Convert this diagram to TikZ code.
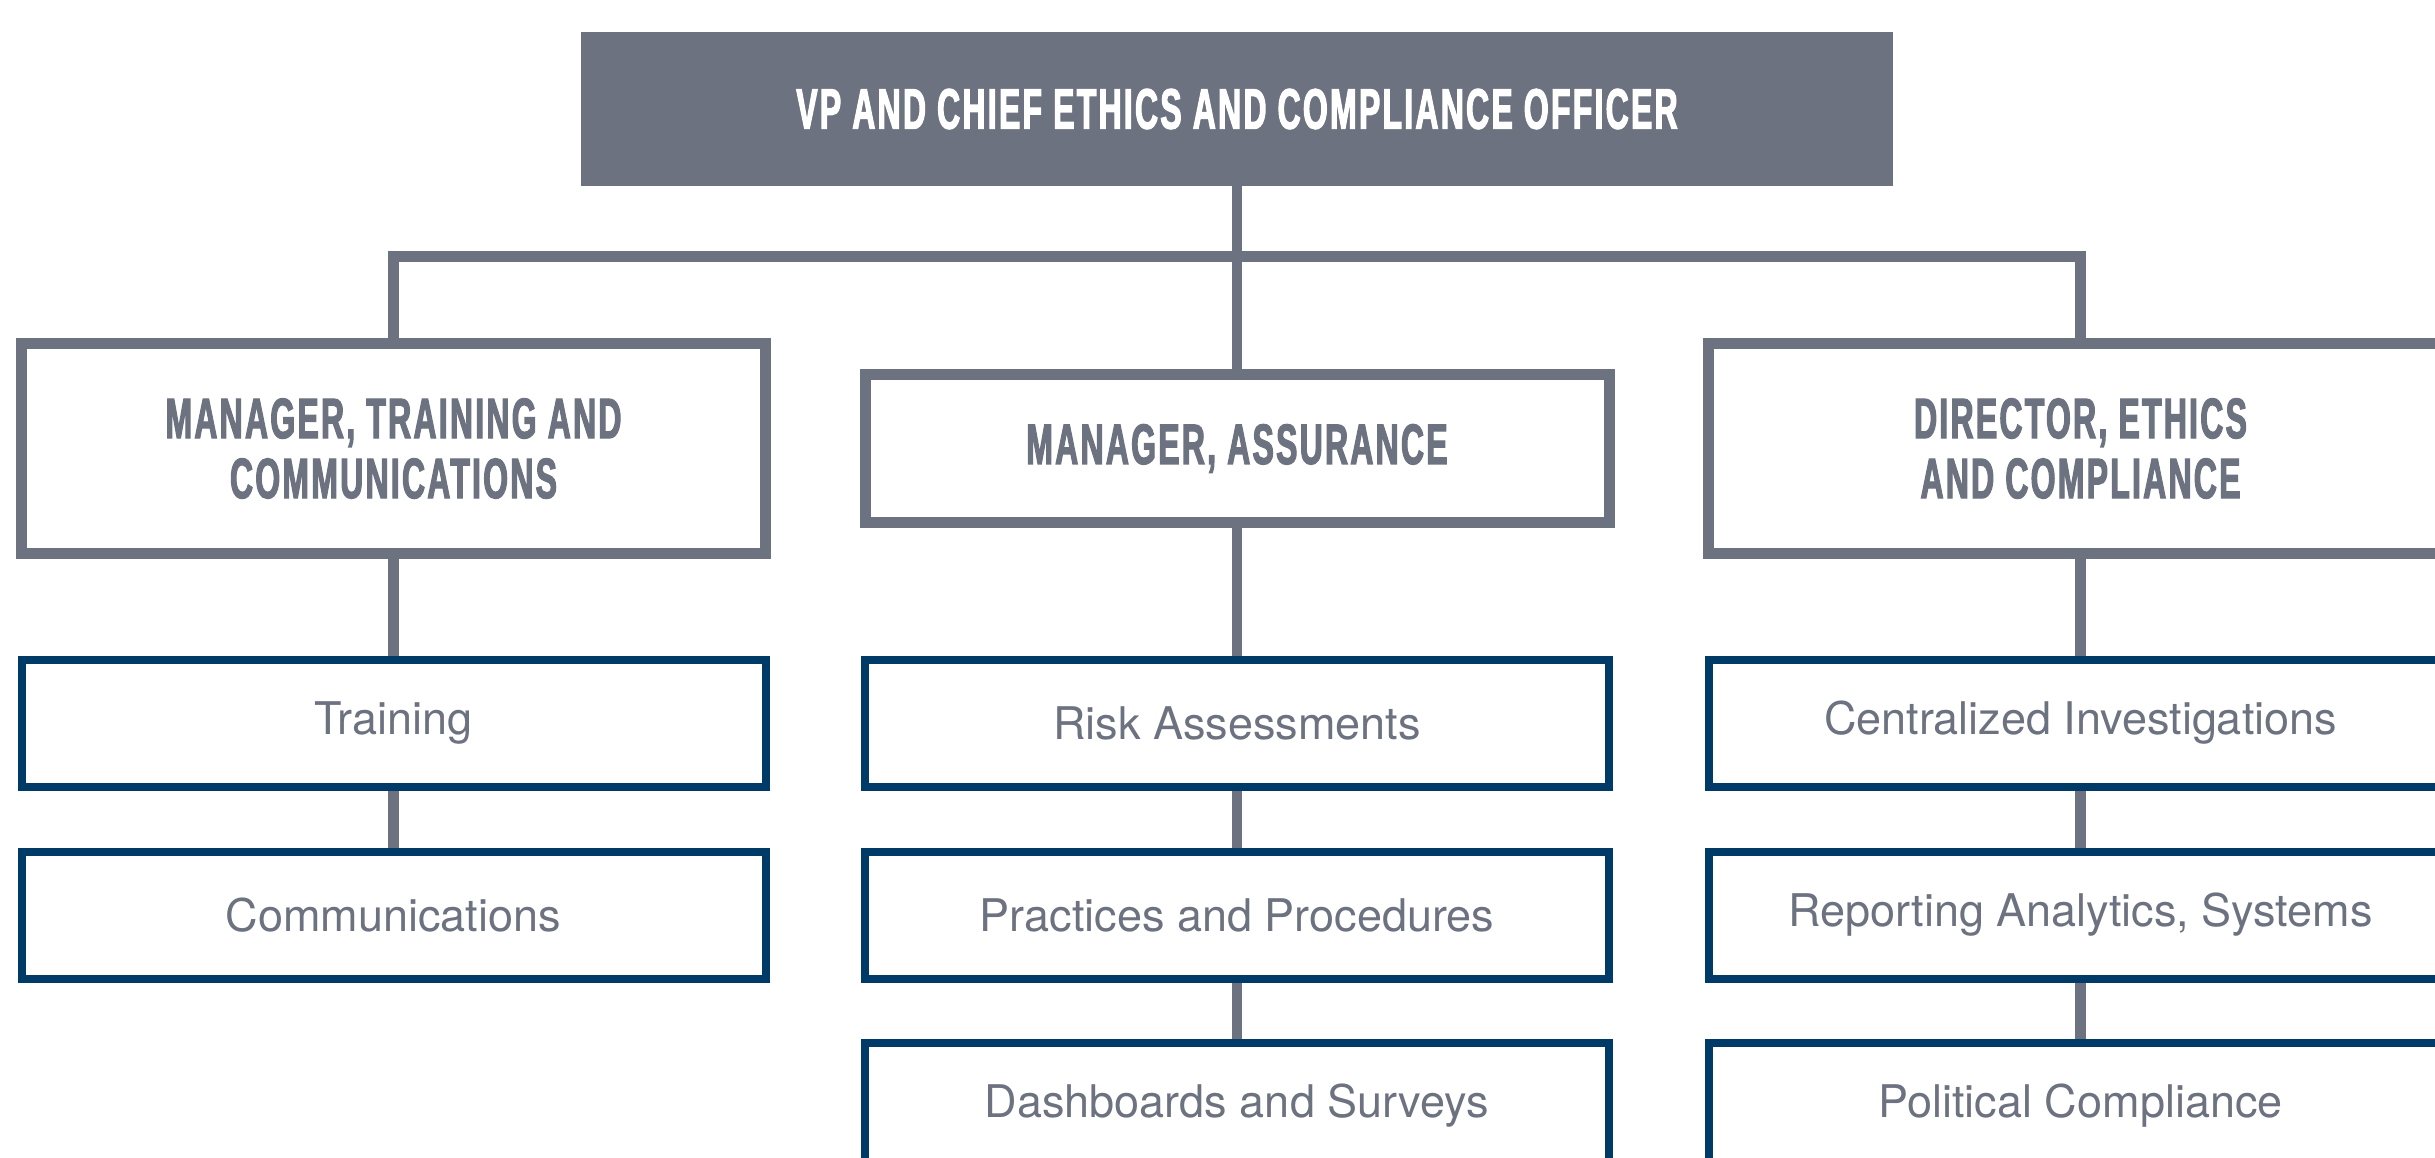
\documentclass[tikz,border=0pt]{standalone}
\usepackage{fontspec}
\setmainfont{TeX Gyre Heros}
\newfontfamily\headfont[FakeStretch=0.56, FakeBold=2, LetterSpace=4]{Liberation Sans}
\definecolor{ecgray}{RGB}{108,114,128}
\definecolor{ecblue}{RGB}{0,59,104}

\begin{document}
\begin{tikzpicture}[x = 1pt, y = 1pt,
            every node/.style = {rectangle, text = ecgray, align = center},
            topbox/.style = {fill = ecgray, text = white, minimum width = 656pt, minimum height = 77pt,
                font = {\headfont\bfseries\fontsize{28.5pt}{30pt}\selectfont}},
            mgr/.style = {draw = ecgray, fill = white, line width = 5.5pt, minimum width = 372pt,
                minimum height = 105pt, font = {\headfont\bfseries\fontsize{28.5pt}{30pt}\selectfont}},
            unit/.style = {draw = ecblue, fill = white, line width = 4pt, minimum width = 372pt,
                minimum height = 63.5pt, font = {\fontsize{22.5pt}{26pt}\selectfont}},
            edge from parent/.style = {draw = ecgray, line width = 5.25pt},
            level 1/.style = {sibling distance = 421.75pt, level distance = 169.75pt,
                child anchor = north,
                edge from parent path = {(\tikzparentnode.south) -- ++(0,-35) -| (\tikzchildnode.north)}},
            level 2/.style = {level distance = 137.25pt,
                edge from parent path = {(\tikzparentnode.south) -- (\tikzchildnode.north)}},
            level 3/.style = {level distance = 96pt},
            level 4/.style = {level distance = 95.5pt}]
            \useasboundingbox (0,0) rectangle (1217.5,-578.5);
            \node[topbox] (vp) at (618.5,-54.5) {VP AND CHIEF ETHICS AND COMPLIANCE OFFICER}
            child {node[mgr] (mtc) {MANAGER, TRAINING AND\\COMMUNICATIONS}
                child {node[unit] (trn) {Training}
                    child {node[unit] (com) {Communications}}
                }
            }
            child {node[mgr, minimum height = 74pt] (mas) {MANAGER, ASSURANCE}
                child {node[unit] (risk) {Risk Assessments}
                    child {node[unit] (prac) {Practices and Procedures}
                        child {node[unit] (dash) {Dashboards and Surveys}}
                    }
                }
            }
            child {node[mgr] (dec) {DIRECTOR, ETHICS\\AND COMPLIANCE}
                child {node[unit] (inv) {Centralized Investigations}
                    child {node[unit] (rep) {Reporting Analytics, Systems}
                        child {node[unit] (pol) {Political Compliance}}
                    }
                }
            };
        \end{tikzpicture}
\end{document}
